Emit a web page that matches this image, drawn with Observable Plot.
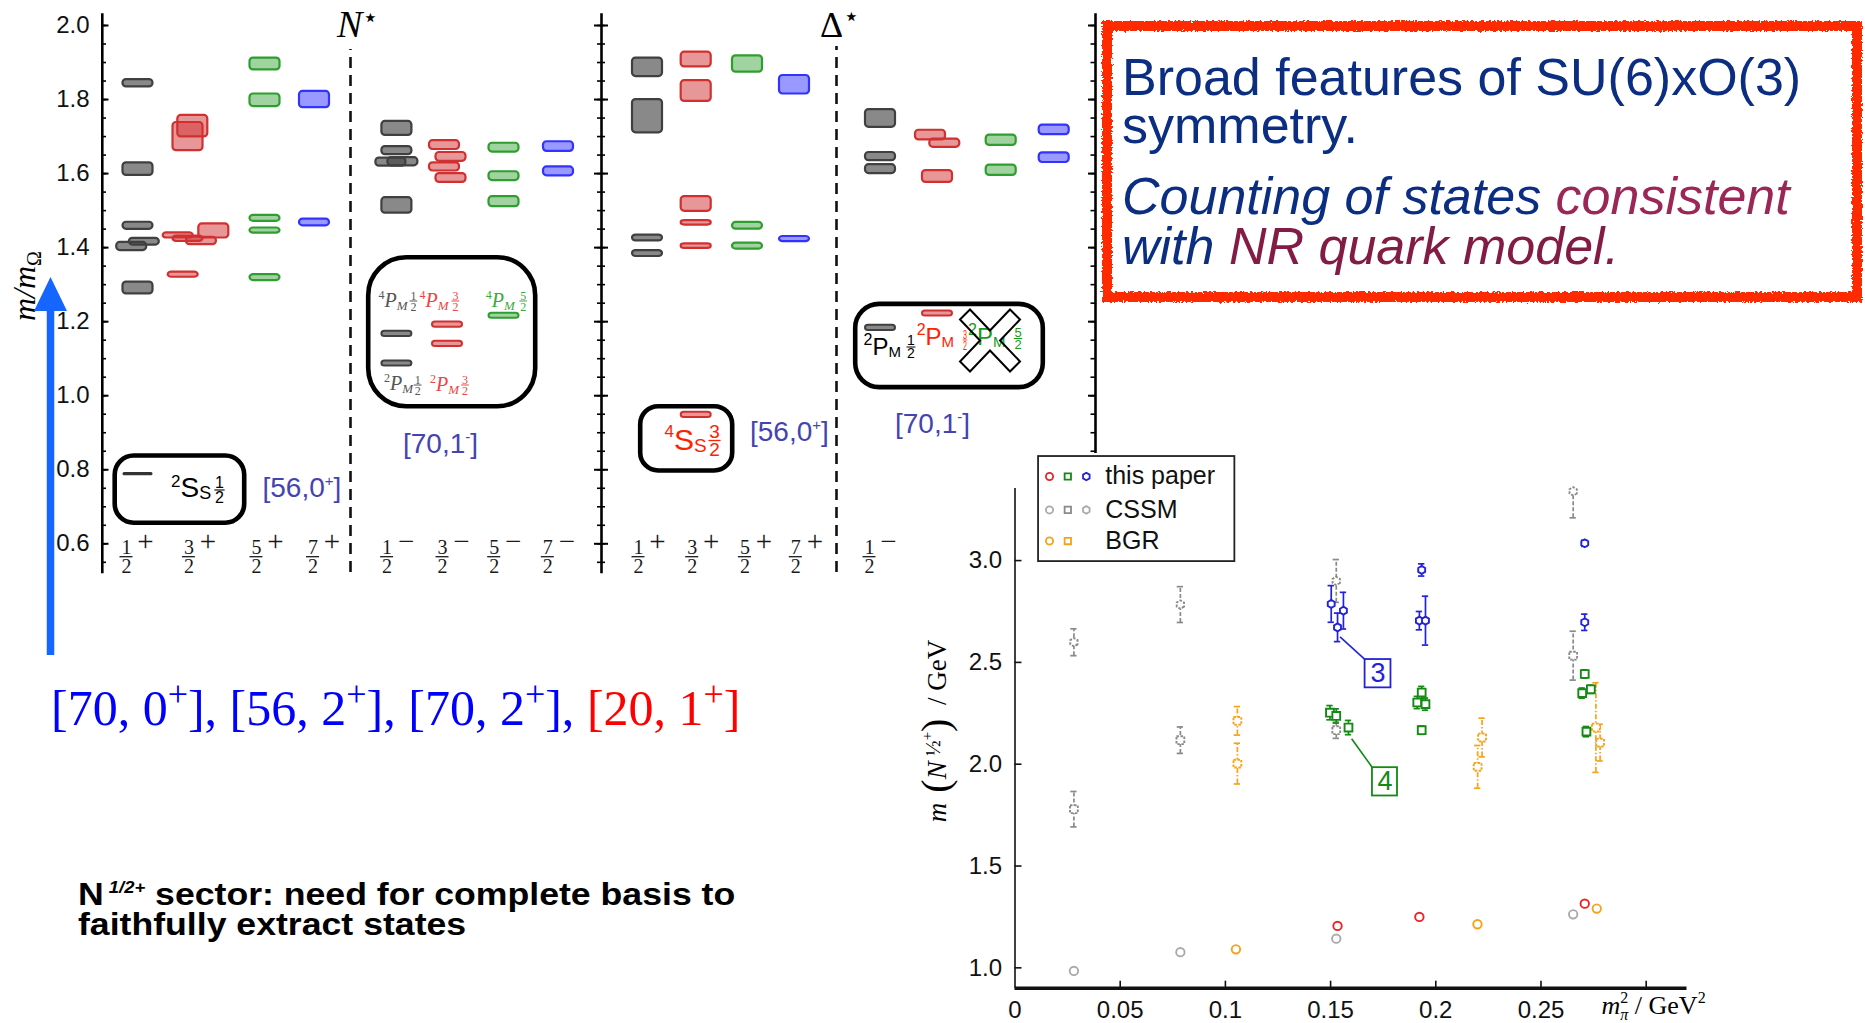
<!DOCTYPE html>
<html><head><meta charset="utf-8">
<script src="https://cdn.jsdelivr.net/npm/d3@7"></script>
<script src="https://cdn.jsdelivr.net/npm/@observablehq/plot@0.6"></script>
<style>
html,body{margin:0;padding:0;background:#fff;overflow:hidden;}
#page{position:relative;width:1865px;height:1023px;overflow:hidden;background:#fff;}
#spectrum{position:absolute;left:0;top:0;width:1100px;height:665px;}
#scatter{position:absolute;left:900px;top:440px;width:840px;height:583px;}
#overlay{position:absolute;left:0;top:0;pointer-events:none;}
</style></head>
<body><div id="page"><div id="spectrum"></div><div id="scatter"></div><svg id="overlay" width="1865" height="1023"></svg></div>
<script>
// ======================= DATA =======================
// Spectrum (m / m_Omega): rows are [spin index, mass, half-height (error), horizontal jitter]
const spinNumerators = ["1", "3", "5", "7"];
const spinColors = ["#404040", "#d03030", "#2e9e2e", "#3333ff"];
const spinOpacity = [0.62, 0.5, 0.45, 0.5];
const nucleonPositive = [
  [0,1.844,0.010,0],[0,1.612,0.017,0],[0,1.459,0.0095,0],[0,1.403,0.011,-6.3],[0,1.416,0.009,6.3],[0,1.291,0.016,0],
  [1,1.700,0.038,0],[1,1.728,0.029,4.8],[1,1.433,0.007,-9.8],[1,1.424,0.007,0],[1,1.418,0.010,13.4],[1,1.445,0.019,25.8],[1,1.327,0.007,-4.8],
  [2,1.896,0.016,0],[2,1.798,0.017,0],[2,1.479,0.008,0],[2,1.446,0.007,0],[2,1.319,0.008,0],
  [3,1.800,0.022,0],[3,1.468,0.009,0]
];
const nucleonNegative = [
  [0,1.722,0.019,0],[0,1.662,0.011,0],[0,1.631,0.011,-6],[0,1.632,0.011,6],[0,1.514,0.021,0],
  [1,1.677,0.012,-3],[1,1.645,0.012,3.5],[1,1.618,0.011,-3],[1,1.588,0.012,3.5],
  [2,1.670,0.012,0],[2,1.593,0.012,0],[2,1.524,0.0135,0],
  [3,1.673,0.013,0],[3,1.606,0.012,0]
];
const deltaPositive = [
  [0,1.887,0.025,0],[0,1.755,0.045,0],[0,1.426,0.008,0],[0,1.384,0.008,0],
  [1,1.908,0.020,0],[1,1.823,0.028,0],[1,1.518,0.020,0],[1,1.467,0.006,0],[1,1.404,0.006,0],
  [2,1.896,0.022,0],[2,1.459,0.009,0],[2,1.404,0.008,0],
  [3,1.840,0.025,0],[3,1.423,0.007,0]
];
const deltaNegative = [
  [0,1.749,0.024,0],[0,1.646,0.011,0],[0,1.612,0.012,0],
  [1,1.704,0.013,-7],[1,1.682,0.011,7.3],[1,1.592,0.016,0],
  [2,1.690,0.014,0],[2,1.609,0.014,0],
  [3,1.718,0.013,0],[3,1.643,0.013,0]
];
// levels shown inside the annotation boxes: [group, spin index, mass]
const boxLevels = [
  ["N-",0,1.167],["N-",0,1.087],["N-",1,1.192],["N-",1,1.140],["N-",2,1.216],
  ["Δ+",1,0.948],["Δ-",0,1.183],["Δ-",1,1.222]
];
const groundNucleon = [["N+",0,0.788]];
const spectrumMajorTicks = [0.6,0.8,1.0,1.2,1.4,1.6,1.8,2.0];
const spectrumTickLabels = ["0.6","0.8","1.0","1.2","1.4","1.6","1.8","2.0"];

// Scatter: m(N 1/2+) / GeV vs m_pi^2 / GeV^2 ; rows [x, m] or [x, m, errLow, errHigh]
const thisPaperGround = [[0.1533,1.206],[0.1922,1.250],[0.2708,1.315]];
const thisPaperSquares = [[0.1497,2.253,0.035],[0.1527,2.237,0.035],[0.1585,2.180,0.035],[0.1933,2.352,0.03],[0.1912,2.303,0.03],[0.1951,2.295,0.03],[0.1933,2.167,0.02],[0.2708,2.443,0.02],[0.2696,2.349,0.025],[0.2737,2.368,0.02],[0.2716,2.160,0.025]];
const thisPaperHexes = [[0.1503,2.787,0.09],[0.1533,2.672,0.07],[0.1561,2.754,0.09],[0.1933,2.954,0.03],[0.1922,2.705,0.045],[0.1951,2.705,0.12],[0.2708,3.085,0.015],[0.2708,2.697,0.04]];
const cssmGround = [[0.028,0.985],[0.0786,1.077],[0.1527,1.143],[0.2653,1.263]];
const cssmSquares = [[0.028,1.779,0.087],[0.0786,2.118,0.065],[0.1527,2.167,0.04],[0.2653,2.533,0.12]];
const cssmHexes = [[0.028,2.599,0.066],[0.0786,2.784,0.088],[0.1527,2.90,0.105],[0.2653,3.34,0.13,0.008]];
const bgrGround = [[0.1050,1.091],[0.2198,1.214],[0.2765,1.291]];
const bgrSquares = [[0.1057,2.213,0.07],[0.1057,2.003,0.10],[0.2199,1.987,0.105],[0.2220,2.131,0.095],[0.2761,2.180,0.22],[0.2781,2.106,0.09]];
const scatterYTicks = [1.0,1.5,2.0,2.5,3.0];
const scatterYTickLabels = ["1.0","1.5","2.0","2.5","3.0"];
const scatterXTicks = [0.05,0.1,0.15,0.2,0.25,0.3];
const scatterXTickLabels = ["0","0.05","0.1","0.15","0.2","0.25"];
const legendNames = ["this paper","CSSM","BGR"];

// ======================= LAYOUT / STYLE =======================
const serif = "Liberation Serif, Times New Roman, serif";
const sans = "Liberation Sans, Arial, Helvetica, sans-serif";
const colX = {"N+":[137.5,187.5,264.5,314], "N-":[396.4,447,503.5,558], "Δ+":[647,695.7,747,794], "Δ-":[880,937,1000.7,1053.7]};
const labelX = {"N+":[126,188.4,256,312.5], "N-":[386.6,442,493.7,547.3], "Δ+":[638,691.7,744.4,795.3], "Δ-":[869]};
const half = 15;
const specY = {domain:[0.6,2.0], range:[543.3,25]};
const ym = d3.scaleLinear().domain(specY.range).range(specY.domain); // px -> m (for annotation placement)

const rows = (arr, g) => arr.map(([s,m,e,dx=0]) => ({g, s, m, e, dx}));
const levels = [...rows(nucleonPositive,"N+"), ...rows(nucleonNegative,"N-"), ...rows(deltaPositive,"Δ+"), ...rows(deltaNegative,"Δ-")];
const boxRows = boxLevels.map(([g,s,m]) => ({g,s,m,e:0.007,dx:0}));
const groundRows = groundNucleon.map(([g,s,m]) => ({g,s,m,e:0.0045,dx:0}));
const cx = d => colX[d.g][d.s] + d.dx;
const minorTicks = d3.range(11, 41).map(i => i*0.05);
const rightMinor = minorTicks.filter(v => v >= 0.85);
const jpRows = [];
for (const g of ["N+","N-","Δ+","Δ-"]) labelX[g].forEach((x,s) => jpRows.push({g, s, x, sign: g.endsWith("+") ? "+" : "−"}));

// ======================= SPECTRUM =======================
const spectrum = Plot.plot({
  width: 1100, height: 665, margin: 0,
  x: {domain:[0,1100], range:[0,1100], axis: null},
  y: {...specY, axis: null},
  style: {background:"transparent", overflow:"visible", fontFamily: sans},
  marks: [
    Plot.ruleX([101.8, 601], {y1: 0.519, y2: 2.032, stroke:"#000", strokeWidth: 2.6}),
    Plot.ruleX([1095], {y1: ym(453), y2: 2.032, stroke:"#000", strokeWidth: 2.6}),
    Plot.ruleY(minorTicks, {y: d=>d, x1: 101.8, x2: 106, strokeWidth: 1.6}),
    Plot.ruleY(spectrumMajorTicks, {y: d=>d, x1: 101.8, x2: 108.5, strokeWidth: 2}),
    Plot.ruleY(minorTicks, {y: d=>d, x1: 597, x2: 605, strokeWidth: 1.6}),
    Plot.ruleY(spectrumMajorTicks, {y: d=>d, x1: 594, x2: 608, strokeWidth: 2}),
    Plot.ruleY(rightMinor, {y: d=>d, x1: 1090.5, x2: 1095, strokeWidth: 1.6}),
    Plot.ruleY(spectrumMajorTicks.filter(v=>v>=0.85), {y: d=>d, x1: 1088, x2: 1095, strokeWidth: 2}),
    Plot.ruleX([350], {y1: ym(572), y2: ym(49), stroke:"#111", strokeWidth: 2.6, strokeDasharray: "11,7"}),
    Plot.ruleX([836], {y1: ym(572), y2: ym(46), stroke:"#111", strokeWidth: 2.6, strokeDasharray: "11,7"}),
    Plot.text(spectrumMajorTicks, {x: 89, y: d=>d, text: (d,i)=>spectrumTickLabels[i], textAnchor:"end", lineAnchor:"middle", fontSize: 24, fontFamily: sans, fill:"#111"}),
    Plot.rect(levels, {x1: d=>cx(d)-half, x2: d=>cx(d)+half, y1: d=>d.m-d.e, y2: d=>d.m+d.e,
      fill: d=>spinColors[d.s], fillOpacity: d=>spinOpacity[d.s], stroke: d=>spinColors[d.s], strokeWidth: 2.2, rx: 3.5}),
    Plot.rect(boxRows, {x1: d=>cx(d)-half, x2: d=>cx(d)+half, y1: d=>d.m-d.e, y2: d=>d.m+d.e,
      fill: d=>spinColors[d.s], fillOpacity: d=>spinOpacity[d.s], stroke: d=>spinColors[d.s], strokeWidth: 2, rx: 3}),
    Plot.rect(groundRows, {x1: d=>cx(d)-half, x2: d=>cx(d)+half, y1: d=>d.m-d.e, y2: d=>d.m+d.e, fill:"#333", rx: 1.5}),
    Plot.text(jpRows, {x: "x", y: ym(553.6), text: d=>spinNumerators[d.s], lineAnchor:"bottom", fontSize: 20, fontFamily: serif, fill:"#1a1a1a"}),
    Plot.ruleY(jpRows, {y: ym(556.2), x1: d=>d.x-6.5, x2: d=>d.x+6.5, strokeWidth: 1.3, stroke:"#1a1a1a"}),
    Plot.text(jpRows, {x: "x", y: ym(572.5), text: ()=>"2", lineAnchor:"bottom", fontSize: 20, fontFamily: serif, fill:"#1a1a1a"}),
    Plot.text(jpRows, {x: d=>d.x+19, y: ym(550), text: "sign", lineAnchor:"bottom", fontSize: 29, fontFamily: serif, fill:"#1a1a1a"})
  ]
});
document.getElementById("spectrum").appendChild(spectrum);

// -------- annotation helpers --------
function rich(svg, x, y, parts, opt = {}) {
  const t = svg.append("text").attr("x", x).attr("y", y)
    .attr("font-family", opt.family || sans).attr("fill", opt.fill || "#000")
    .attr("font-size", opt.size || 20).attr("text-anchor", opt.anchor || "start");
  if (opt.transform) t.attr("transform", opt.transform);
  if (opt.style) t.attr("font-style", opt.style);
  if (opt.weight) t.attr("font-weight", opt.weight);
  let shift = 0;
  for (const p of parts) {
    const s = p.shift || 0;
    const ts = t.append("tspan").text(p.t).attr("dy", shift - s + (p.nl || 0));
    if (p.nl) ts.attr("x", x);
    shift = s;
    if (p.size) ts.attr("font-size", p.size);
    if (p.style) ts.attr("font-style", p.style);
    if (p.weight) ts.attr("font-weight", p.weight);
    if (p.fill) ts.attr("fill", p.fill);
    if (p.dx) ts.attr("dx", p.dx);
    if (p.family) ts.attr("font-family", p.family);
  }
  return t;
}
function frac(svg, x, barY, num, den, size, fill, family, sx = 1) {
  const g = svg.append("g").attr("fill", fill).attr("font-family", family).attr("font-size", size)
    .attr("text-anchor", "middle").attr("transform", `translate(${x},${barY}) scale(${sx},1)`);
  g.append("text").attr("x", 0).attr("y", -size*0.12).text(num);
  g.append("line").attr("x1", -size*0.32).attr("x2", size*0.32).attr("y1", 0).attr("y2", 0)
    .attr("stroke", fill).attr("stroke-width", Math.max(1, size*0.07));
  g.append("text").attr("x", 0).attr("y", size*0.8).text(den);
}
const sp = d3.select(spectrum);
// annotation boxes
const boxes = [[114.7,455.5,129.5,67.3,19],[368.2,257.2,167,149,38],[640.2,406.2,92,64.3,18],[855.2,303.9,187.6,83.2,24]];
for (const [x,y,w,h,r] of boxes) sp.append("rect").attr("x",x).attr("y",y).attr("width",w).attr("height",h)
  .attr("rx",r).attr("fill","none").attr("stroke","#000").attr("stroke-width",4.6);
// box 1
rich(sp, 171, 496.7, [{t:"2",size:17,shift:10},{t:"S",size:28},{t:"S",size:18,shift:-2}], {family:sans});
frac(sp, 219.5, 490, "1", "2", 16, "#000", sans);
// box 2
const pm = (sup) => [{t:sup,size:12,shift:8,style:"normal"},{t:"P",size:20,style:"italic"},{t:"M",size:13,shift:-3,style:"italic"}];
rich(sp, 378.6, 306.7, pm("4"), {family:serif, fill:"#555"}); frac(sp, 413.4, 301, "1","2", 12, "#555", serif);
rich(sp, 419.6, 306.7, pm("4"), {family:serif, fill:"#f04444"}); frac(sp, 455.4, 301, "3","2", 12, "#f04444", serif);
rich(sp, 485.7, 306.7, pm("4"), {family:serif, fill:"#3aaa3a"}); frac(sp, 523.2, 301, "5","2", 12, "#3aaa3a", serif);
rich(sp, 384, 390, pm("2"), {family:serif, fill:"#555"}); frac(sp, 417.7, 385, "1","2", 12, "#555", serif);
rich(sp, 430, 391, pm("2"), {family:serif, fill:"#f04444"}); frac(sp, 465, 385, "3","2", 12, "#f04444", serif);
// box 3
rich(sp, 664.6, 450, [{t:"4",size:17,shift:13},{t:"S",size:30},{t:"S",size:19,shift:-2}], {family:sans, fill:"#ff2200"});
frac(sp, 714.5, 440.5, "3","2", 19, "#ff2200", sans);
// box 4
const pmS = (sup) => [{t:sup,size:16,shift:10},{t:"P",size:24},{t:"M",size:15,shift:-2}];
rich(sp, 863.5, 355, pmS("2"), {family:sans, fill:"#000"}); frac(sp, 911, 347, "1","2", 14, "#000", sans);
rich(sp, 916.7, 345, pmS("2"), {family:sans, fill:"#ff2200"}); frac(sp, 965, 340, "3","2", 12, "#ff2200", sans, 0.6);
rich(sp, 968, 345, pmS("2"), {family:sans, fill:"#1a9a1a"}); frac(sp, 1018, 338.5, "5","2", 13, "#1a9a1a", sans);
const crossPts = [[-30,-21],[-20,-31],[0,-10],[20,-31],[30,-21],[10,0],[30,21],[20,31],[0,10],[-20,31],[-30,21],[-10,0]];
sp.append("polygon").attr("points", crossPts.map(([a,b]) => `${990+a},${340.5+b}`).join(" "))
  .attr("fill","none").attr("stroke","#000").attr("stroke-width",2);
// multiplet labels
const mult = (x, y, a, s) => rich(sp, x, y, [{t:a},{t:s,size:15,shift:11},{t:"]"}], {family:sans, size:28, fill:"#4444b0"});
mult(262.5, 497, "[56,0", "+"); mult(403, 452.5, "[70,1", "-"); mult(750, 441, "[56,0", "+"); mult(895, 432.5, "[70,1", "-");
// sector titles
rich(sp, 337, 36.7, [{t:"N",style:"italic",size:38},{t:"⋆",size:26,shift:11,family:"DejaVu Sans"}], {family:serif});
rich(sp, 820, 37, [{t:"Δ",size:36},{t:"⋆",size:26,shift:12,family:"DejaVu Sans"}], {family:serif});
// y label
rich(sp, 0, 0, [{t:"m/m",style:"italic"},{t:"Ω",size:20,shift:-6}], {family:serif, size:32, anchor:"middle", transform:"translate(35,286) rotate(-90)"});

// ======================= SCATTER =======================
const red = "#ee2222", green = "#138a13", blue = "#2222dd", grayC = "#aaaaaa", grayS = "#8a8a8a", orange = "#f7a21b";
const hexagon = {draw(ctx, size) { const r = Math.sqrt(size/Math.PI)*1.05;
  for (let i = 0; i < 6; i++) { const a = Math.PI/3*i + Math.PI/6; const x = r*Math.cos(a), y = r*Math.sin(a); i ? ctx.lineTo(x,y) : ctx.moveTo(x,y); }
  ctx.closePath(); }};
const capW = 0.0015;
const lo = d => d[1] - d[2], hi = d => d[1] + (d[3] ?? d[2]);
function errSeries(data, color, dash, symbol, r) {
  return [
    Plot.ruleX(data, {x: d=>d[0], y1: lo, y2: hi, stroke: color, strokeWidth: 1.7, strokeDasharray: dash}),
    Plot.ruleY(data, {y: lo, x1: d=>d[0]-capW, x2: d=>d[0]+capW, stroke: color, strokeWidth: 1.7}),
    Plot.ruleY(data, {y: hi, x1: d=>d[0]-capW, x2: d=>d[0]+capW, stroke: color, strokeWidth: 1.7}),
    Plot.dot(data, {x: d=>d[0], y: d=>d[1], symbol, r, stroke: color, fill: "white", strokeWidth: 1.9, strokeDasharray: dash ? "2.5,1.5" : null})
  ];
}
const groundDots = (data, color) => Plot.dot(data, {x: d=>d[0], y: d=>d[1], r: 4.2, stroke: color, fill:"white", strokeWidth: 1.9});
const annotations = [
  {label:"3", color: blue, x1:0.1664, x2:0.1787, y1:2.375, y2:2.514, from:[0.1545,2.625], to:[0.1664,2.514]},
  {label:"4", color: green, x1:0.1699, x2:0.1818, y1:1.844, y2:1.983, from:[0.1600,2.125], to:[0.1699,1.983]}
];
const legendRows = [
  {y:3.413, name:legendNames[0], syms:[["circle",red],["square",green],[hexagon,blue]]},
  {y:3.249, name:legendNames[1], syms:[["circle",grayC],["square",grayS],[hexagon,grayC]]},
  {y:3.096, name:legendNames[2], syms:[["circle",orange],["square",orange]]}
];
const legendSymX = [0.0164, 0.0251, 0.0339];
const legendSyms = legendRows.flatMap(r => r.syms.map(([s,c],i) => ({x: legendSymX[i], y: r.y, s, c})));
const pxX = 2104, pxY = 203.6;

const scatter = Plot.plot({
  width: 840, height: 583, marginLeft: 114.5, marginRight: 53.5, marginTop: 48, marginBottom: 35.3,
  x: {domain:[0,0.3194], range:[114.5,786.5], axis: null},
  y: {domain:[0.9,3.354], range:[547.7,48], axis: null},
  style: {background:"transparent", overflow:"visible", fontFamily: sans},
  marks: [
    Plot.ruleX([0], {y1: 0.9, y2: 3.354, stroke:"#111", strokeWidth: 1.6}),
    Plot.ruleY(scatterYTicks, {y: d=>d, x1: 0, x2: 7/pxX, stroke:"#111", strokeWidth: 1.6}),
    Plot.ruleX(scatterXTicks, {x: d=>d, y1: 0.9, y2: 0.9 + 7/pxY, stroke:"#111", strokeWidth: 1.6}),
    Plot.ruleY([0.9], {x1: 0, x2: 0.3194, stroke:"#111", strokeWidth: 3.4}),
    Plot.text(scatterYTicks, {x: 0, y: d=>d, dx: -13, text: (d,i)=>scatterYTickLabels[i], textAnchor:"end", lineAnchor:"middle", fontSize: 24, fontFamily: sans, fill:"#111"}),
    Plot.text([0, ...scatterXTicks.slice(0,5)], {x: d=>d, y: 0.9, dy: 22, text: (d,i)=>scatterXTickLabels[i], lineAnchor:"middle", fontSize: 24, fontFamily: sans, fill:"#111"}),
    ...errSeries(cssmSquares, grayS, "4,2", "square", 4.4),
    ...errSeries(cssmHexes, grayS, "4,2", hexagon, 4),
    ...errSeries(bgrSquares, orange, "5,2,1.5,2", "square", 4.4),
    ...errSeries(thisPaperSquares, green, null, "square", 4.4),
    ...errSeries(thisPaperHexes, blue, null, hexagon, 3.8),
    groundDots(cssmGround, grayC), groundDots(bgrGround, orange), groundDots(thisPaperGround, red),
    Plot.link(annotations, {x1: d=>d.from[0], y1: d=>d.from[1], x2: d=>d.to[0], y2: d=>d.to[1], stroke: d=>d.color, strokeWidth: 1.6}),
    Plot.rect(annotations, {x1:"x1", x2:"x2", y1:"y1", y2:"y2", fill:"white", stroke: d=>d.color, strokeWidth: 1.8}),
    Plot.text(annotations, {x: d=>(d.x1+d.x2)/2, y: d=>(d.y1+d.y2)/2, text:"label", fill: d=>d.color, fontSize: 27, lineAnchor:"middle", fontFamily: sans}),
    Plot.rect([0], {x1: 0.0112, x2: 0.1045, y1: 2.995, y2: 3.511, fill:"white", stroke:"#222", strokeWidth: 1.8}),
    Plot.dot(legendSyms, {x:"x", y:"y", symbol:"s", r: 3.6, stroke:"c", fill:"white", strokeWidth: 1.8}),
    Plot.text(legendRows, {x: 0.0429, y: d=>d.y, text:"name", textAnchor:"start", lineAnchor:"middle", fontSize: 25, fontFamily: sans, fill:"#111"})
  ]
});
document.getElementById("scatter").appendChild(scatter);
const sc = d3.select(scatter);
rich(sc, 0, 0, [{t:"m",style:"italic"},{t:" (",size:40,shift:-3},{t:"N",style:"italic",shift:0},{t:" ½",size:21,shift:6},{t:"+",size:15,shift:14},{t:")",size:40,shift:-3},{t:"  / GeV",shift:0}],
  {family:serif, size:27, anchor:"middle", transform:"translate(46,291) rotate(-90)"});
rich(sc, 701.5, 574, [{t:"m",style:"italic",size:26},{t:"2",size:16,shift:11},{t:"π",size:16,shift:-6,style:"italic",dx:-8},{t:" / GeV",size:26},{t:"2",size:16,shift:11}], {family:serif, size:26});

// ======================= SLIDE OVERLAY =======================
const ov = d3.select("#overlay");
const defs = ov.append("defs");
const f = defs.append("filter").attr("id","rough").attr("x","-5%").attr("y","-5%").attr("width","110%").attr("height","110%");
f.append("feTurbulence").attr("type","fractalNoise").attr("baseFrequency",0.45).attr("numOctaves",2).attr("seed",3).attr("result","n");
f.append("feDisplacementMap").attr("in","SourceGraphic").attr("in2","n").attr("scale",5);
ov.append("rect").attr("x",1107).attr("y",26).attr("width",750).attr("height",271)
  .attr("fill","none").attr("stroke","#ff2a00").attr("stroke-width",10).attr("filter","url(#rough)");
const navy = "#0b2e82";
rich(ov, 1122, 95, [{t:"Broad features of SU(6)xO(3)"},{t:"symmetry.",nl:48}], {family:sans, size:52, fill:navy});
rich(ov, 1122, 214, [{t:"Counting of states "},{t:"consistent",fill:"#9a2756"},{t:"with ",nl:50,fill:navy},{t:"NR quark model.",fill:"#831c45"}], {family:sans, size:52, fill:navy, style:"italic"});
// blue arrow
ov.append("line").attr("x1",50.5).attr("x2",50.5).attr("y1",306).attr("y2",655).attr("stroke","#1565ff").attr("stroke-width",7.5);
ov.append("polygon").attr("points","34,311 50.5,277 67,311").attr("fill","#1565ff");
// multiplet list
const sup = {size:36, shift:19};
rich(ov, 51, 725, [{t:"[70, 0"},{t:"+",...sup},{t:"], [56, 2"},{t:"+",...sup},{t:"], [70, 2"},{t:"+",...sup},{t:"], "},
  {t:"[20, 1",fill:"#ff0000"},{t:"+",...sup,fill:"#ff0000"},{t:"]",fill:"#ff0000"}], {family:serif, size:50, fill:"#0000ff"});
// bold note
rich(ov, 0, 0, [{t:"N"},{t:" 1/2+",size:16,shift:12,style:"italic"},{t:" sector: need for complete basis to"},{t:"faithfully extract states",nl:30}],
  {family:sans, size:31, weight:"bold", fill:"#000", transform:"translate(78,905) scale(1.15,1)"});
</script></body></html>
